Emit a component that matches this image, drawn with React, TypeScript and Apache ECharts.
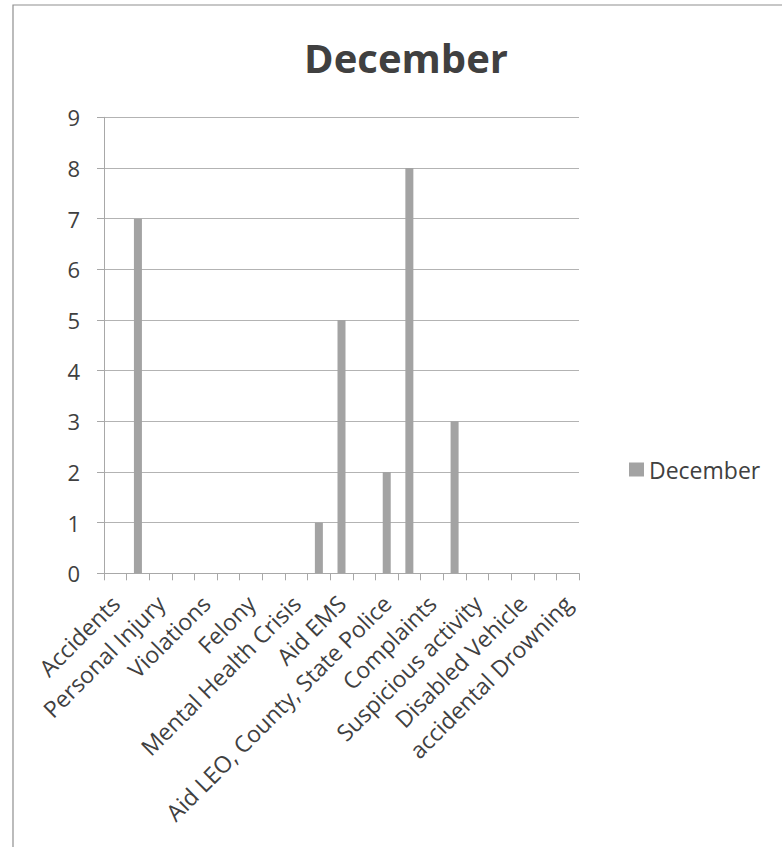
import React, { useEffect, useRef } from "react";
import * as echarts from "echarts";

const titleText = "December";
const seriesName = "December";
// 21 categories; only every other label is shown on the axis in the reference
const categories = [
  "Accidents",
  "(unlabeled 1)",
  "Personal Injury",
  "(unlabeled 3)",
  "Violations",
  "(unlabeled 5)",
  "Felony",
  "(unlabeled 7)",
  "Mental Health Crisis",
  "(unlabeled 9)",
  "Aid EMS",
  "(unlabeled 11)",
  "Aid LEO, County, State Police",
  "(unlabeled 13)",
  "Complaints",
  "(unlabeled 15)",
  "Suspicious activity",
  "(unlabeled 17)",
  "Disabled Vehicle",
  "(unlabeled 19)",
  "accidental Drowning",
];
const values = [0, 7, 0, 0, 0, 0, 0, 0, 0, 1, 5, 0, 2, 8, 0, 3, 0, 0, 0, 0, 0];
const yMin = 0;
const yMax = 9;
const yInterval = 1;

const FONT = '"Open Sans", "Liberation Sans", sans-serif';
const TEXT = "#404040";

export default function App() {
  const ref = useRef<HTMLDivElement>(null);
  useEffect(() => {
    if (!ref.current) return;
    const chart = echarts.init(ref.current, null, { renderer: "svg" });
    chart.setOption({
      animation: false,
      backgroundColor: "#ffffff",
      textStyle: { fontFamily: FONT },
      graphic: [
        {
          type: "rect",
          z: -10,
          shape: { x: 13, y: 5, width: 820, height: 900 },
          style: { fill: "none", stroke: "#8f8f8f", lineWidth: 1.2 },
        },
        {
          type: "text",
          x: 406,
          y: 57,
          style: {
            text: titleText,
            font: `bold 40px ${FONT}`,
            fill: TEXT,
            textAlign: "center",
            textVerticalAlign: "middle",
          },
        },
      ],
      legend: {
        data: [seriesName],
        left: 629,
        top: 458,
        padding: 0,
        icon: "rect",
        itemWidth: 15,
        itemHeight: 14,
        itemGap: 8,
        textStyle: { fontSize: 23, color: TEXT, fontFamily: FONT },
      },
      grid: {
        left: 104,
        right: 203,
        top: 117.3,
        bottom: 273.7,
        outerBoundsMode: "none",
        containLabel: false,
      },
      xAxis: {
        type: "category",
        data: categories,
        boundaryGap: true,
        axisLine: { show: true, lineStyle: { color: "#a8a8a8", width: 1 } },
        axisTick: {
          show: true,
          interval: 0,
          length: 7,
          lineStyle: { color: "#a8a8a8" },
        },
        axisLabel: {
          interval: 1,
          rotate: 45,
          fontSize: 23,
          margin: 26,
          color: TEXT,
          fontFamily: FONT,
        },
        splitLine: { show: false },
      },
      yAxis: {
        type: "value",
        min: yMin,
        max: yMax,
        interval: yInterval,
        axisLine: { show: true, lineStyle: { color: "#a8a8a8", width: 1 } },
        axisTick: { show: true, length: 7, lineStyle: { color: "#a8a8a8" } },
        axisLabel: {
          fontSize: 22,
          margin: 24,
          color: TEXT,
          fontFamily: FONT,
        },
        splitLine: { show: true, lineStyle: { color: "#b3b3b3", width: 1 } },
      },
      series: [
        {
          name: seriesName,
          type: "bar",
          data: values,
          barWidth: 8,
          itemStyle: { color: "#a3a3a3" },
        },
      ],
    });
    return () => chart.dispose();
  }, []);
  return (
    <div
      ref={ref}
      style={{ position: "fixed", left: 0, top: 0, width: 782, height: 847 }}
    />
  );
}
